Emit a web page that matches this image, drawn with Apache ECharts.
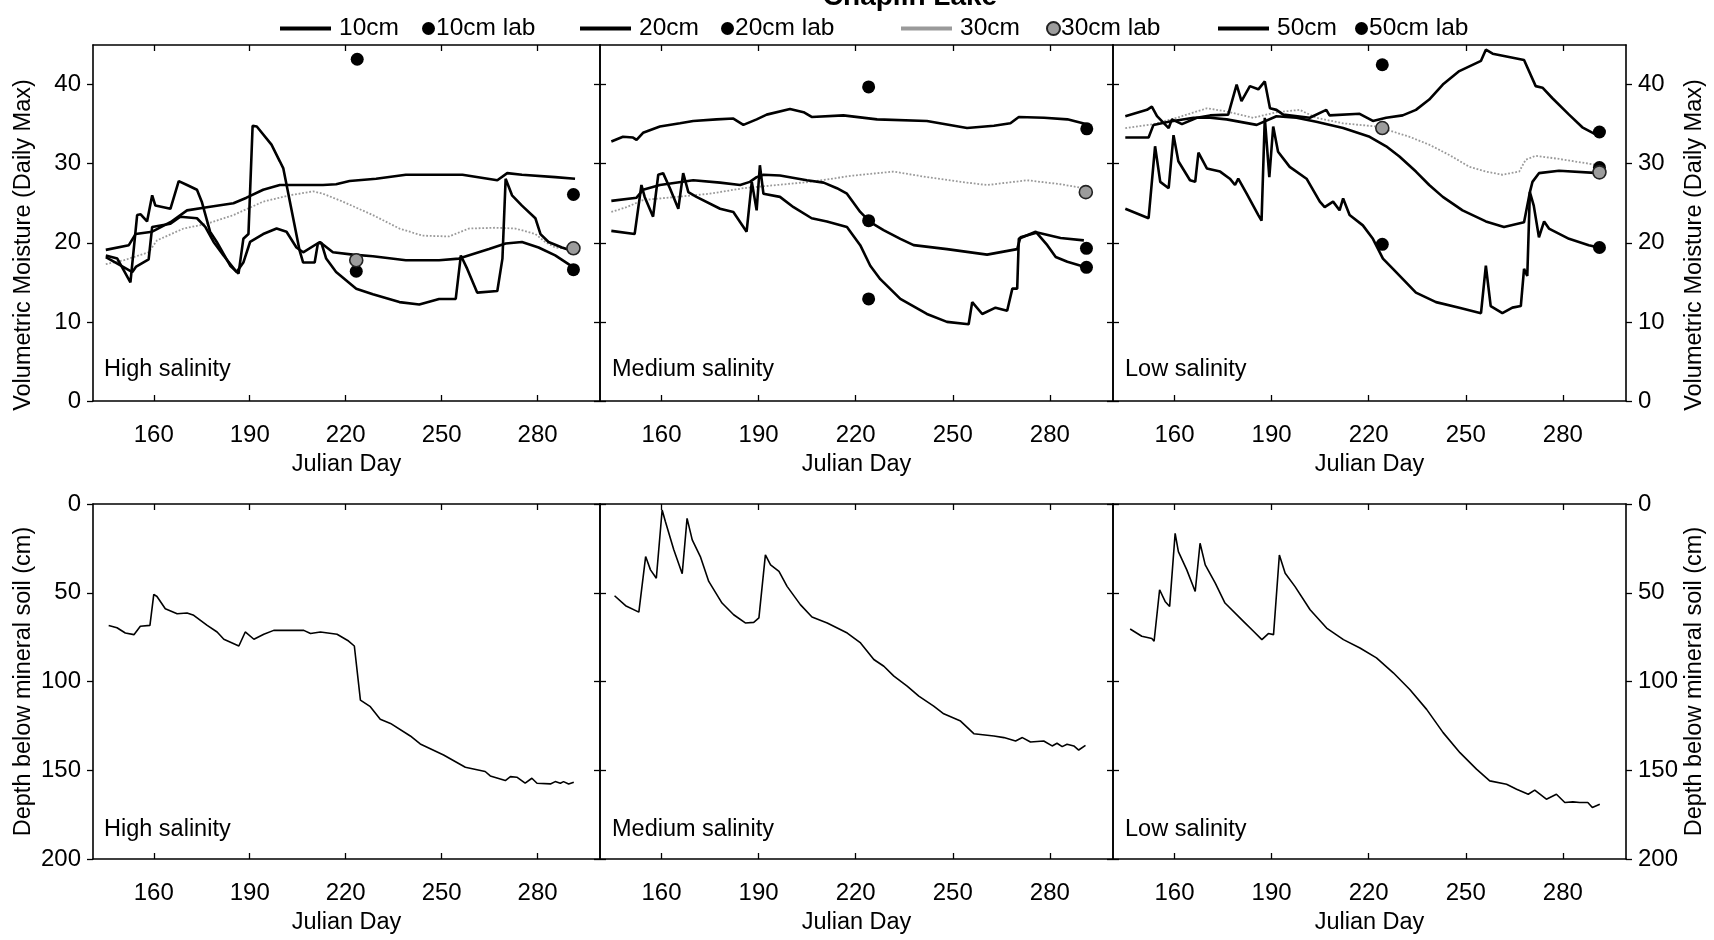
<!DOCTYPE html>
<html><head><meta charset="utf-8">
<script src="https://cdn.jsdelivr.net/npm/echarts@6/dist/echarts.min.js"></script>
<style>html,body{margin:0;padding:0;background:#fff}#c{width:1714px;height:940px}</style>
</head><body><div id="c"></div>
<script>
// ---------- data ----------
const chartTitle = 'Chaplin Lake';
const xTicks = [160, 190, 220, 250, 280];
const moistTicks = [0, 10, 20, 30, 40];
const depthTicks = [0, 50, 100, 150, 200];
const panelNames = ['High salinity', 'Medium salinity', 'Low salinity'];
const depthNames = ['10cm', '20cm', '30cm', '50cm'];
const labNames = ['10cm lab', '20cm lab', '30cm lab', '50cm lab'];

// High salinity – volumetric moisture (daily max)
const high10 = [[145,18.4],[148.6,18.0],[152.7,15.0],[154.8,23.5],[155.9,23.6],[157.9,22.7],[159.5,26.0],[160.5,24.7],[165.2,24.3],[167.8,27.8],[170.4,27.3],[173.5,26.7],[175,25.2],[177.6,21.4],[179.7,20.1],[183.9,17.1],[186.5,16.1],[188,20.5],[189.6,21.1],[190.9,34.8],[192.2,34.7],[196.8,32.4],[199.4,30.3],[200.5,29.4],[205.6,19.0],[206.7,17.5],[210.3,17.5],[211.3,19.9],[212.4,20.0],[213.9,18.0],[217,16.3],[223.3,14.2],[228.5,13.5],[236.8,12.5],[243,12.2],[249.2,12.9],[254.4,12.9],[256,18.4],[258,16.7],[261.1,13.7],[267.4,13.9],[269,18.0],[270,28.1],[272,26.0],[275.1,24.7],[279.3,23.1],[280.9,21.1],[283.4,20.1],[287.6,19.4],[290.7,19.0]];
const high20 = [[145,18.2],[150.7,16.9],[153.3,16.3],[154.5,17.0],[158.4,17.9],[159.5,22.0],[165.2,22.4],[168.3,23.3],[173.5,23.1],[176.1,22.0],[178.7,20.1],[181.8,18.4],[185.9,16.3],[188,17.5],[190.1,20.1],[194.2,21.1],[198.4,21.8],[201.5,21.4],[204.6,19.4],[206.7,18.8],[211.9,20.1],[216,18.8],[222.2,18.5],[228.5,18.3],[238.8,17.8],[249.2,17.8],[255.4,18.0],[264.8,19.2],[270,19.9],[275.1,20.1],[280.3,19.4],[285.5,18.4],[291.2,16.9]];
const high30 = [[145,17.3],[150.7,17.8],[153.8,18.2],[158.4,18.8],[161,20.3],[169.3,21.8],[176.6,22.4],[184.9,23.5],[194.2,25.2],[202.5,26.0],[209.8,26.5],[212.9,26.2],[219.1,25.2],[228.5,23.5],[236.8,21.8],[244,20.9],[252.3,20.8],[258.5,21.8],[266.8,21.9],[273.1,21.8],[279.3,21.1],[282.4,20.1],[285.5,19.4],[290.7,19.2]];
const high50 = [[145,19.1],[152.2,19.7],[154.3,21.1],[159.5,21.4],[165.2,22.6],[170.4,24.1],[176.6,24.5],[184.9,25.0],[189,25.7],[194.2,26.7],[199.4,27.3],[212.9,27.3],[217,27.4],[221.2,27.8],[229.5,28.1],[238.8,28.6],[249.2,28.6],[256.5,28.6],[267.4,27.9],[270.5,28.8],[275.1,28.6],[285.5,28.3],[291.7,28.1]];
const high10lab = [[223.3,16.4],[291.2,16.6]];
const high20lab = [];
const high30lab = [[223.3,17.8],[291.2,19.3]];
const high50lab = [[223.6,43.2],[291.2,26.1]];

// Medium salinity
const med10 = [[144.5,21.5],[151.7,21.1],[153.8,27.3],[154.8,25.8],[157.4,23.3],[159,28.6],[160.5,28.8],[162.6,26.9],[165.2,24.3],[166.7,28.8],[168.3,26.4],[170.8,25.8],[178.1,24.3],[182.2,23.9],[186.3,21.4],[187.9,27.7],[189.4,24.1],[190.4,29.8],[191.5,26.2],[196.6,25.8],[200.8,24.5],[206.4,23.1],[211.1,22.7],[217.3,22.0],[221.4,19.7],[224.5,17.1],[227.6,15.4],[233.8,12.9],[242,11.0],[248.2,10.0],[254.9,9.7],[256,12.5],[259.1,11.0],[263.2,11.8],[266.8,11.4],[268.4,14.2],[269.9,14.2],[270.4,20.5],[275.6,21.4],[279.2,19.7],[281.8,18.2],[285.4,17.6],[291.1,16.9]];
const med20 = [[144.5,25.3],[152.3,25.7],[154.3,26.7],[159.5,27.3],[169.8,27.9],[178.1,27.6],[184.3,27.3],[187.3,27.7],[189.4,28.3],[191.5,28.6],[196.6,28.5],[204.9,27.9],[210.1,27.6],[214.2,26.9],[217.3,26.2],[221.4,23.9],[224.5,22.6],[228.6,21.6],[233.8,20.5],[237.9,19.7],[248.2,19.2],[260.6,18.5],[269.9,19.2],[270.9,20.7],[276.1,21.3],[283.3,20.6],[290.5,20.3]];
const med30 = [[144.5,23.9],[149.2,24.5],[154.3,25.4],[164.6,25.8],[174.9,26.2],[185.3,26.9],[195.6,27.3],[205.9,27.7],[219.3,28.5],[231.7,29.0],[242,28.3],[252.4,27.7],[260.6,27.3],[273,27.9],[283.3,27.4],[290.5,26.9]];
const med50 = [[144.5,32.8],[148.1,33.4],[151.2,33.3],[152.3,33.0],[154.3,33.9],[159.5,34.7],[165.7,35.1],[169.8,35.4],[177,35.6],[182.2,35.7],[185.3,34.9],[189.4,35.6],[192.5,36.2],[199.7,36.9],[203.9,36.5],[206.4,35.9],[216.2,36.1],[226.6,35.6],[242,35.4],[254.4,34.5],[262.7,34.8],[267.8,35.1],[270.4,35.9],[278.2,35.8],[285.4,35.6],[291.1,35.0]];
const med10lab = [[224,12.9],[291.3,16.9]];
const med20lab = [[224,22.8],[291.3,19.3]];
const med30lab = [[291.1,26.4]];
const med50lab = [[224,39.7],[291.4,34.4]];

// Low salinity
const low10 = [[144.8,24.3],[152,23.1],[154,32.2],[155.6,27.7],[158.2,26.9],[159.7,33.6],[161.2,30.3],[164.8,27.9],[166.4,27.7],[167.4,31.4],[170,29.4],[174.1,29.0],[177.1,28.1],[178.7,27.3],[179.7,28.1],[182.3,26.2],[185.9,23.5],[186.9,22.8],[187.9,35.8],[189.3,28.3],[190.5,34.7],[192,31.5],[195.6,29.6],[200.8,28.1],[204.9,25.2],[206.4,24.5],[209,25.2],[211,24.1],[212.1,25.6],[214.1,23.5],[218.2,22.2],[221.3,20.5],[224.4,18.0],[227.5,16.7],[234.6,13.7],[240.8,12.5],[248,11.8],[254.7,11.1],[256.2,17.1],[257.7,12.0],[261.3,11.1],[264.4,11.8],[267,12.0],[268,16.7],[269,15.8],[269.8,26.4],[271,24.7],[272.6,20.7],[274.2,22.7],[275.7,21.8],[281.9,20.5],[288,19.7],[291.1,19.4]];
const low20 = [[144.8,33.3],[152,33.3],[153.5,34.9],[158.2,35.3],[165.9,35.8],[171,35.8],[176.1,35.6],[185.4,34.9],[191.5,36.0],[197.7,35.8],[203.8,35.3],[212.1,34.5],[220.3,33.4],[225.4,32.2],[229.5,30.9],[234.6,29.0],[238.7,27.3],[242.9,25.8],[249,24.1],[256.2,22.7],[261.8,22.0],[268,22.6],[269.8,26.4],[270.6,27.7],[272.6,28.8],[278.8,29.1],[291.1,28.8]];
const low30 = [[144.8,34.5],[153.5,35.0],[160.7,35.8],[170,37.0],[176.1,36.6],[184.3,35.8],[191.5,36.5],[198.7,36.8],[203.8,35.8],[212.1,35.1],[222.3,34.7],[232.6,33.4],[238.7,32.4],[244.9,31.1],[251.1,29.6],[256.2,29.0],[261.3,28.6],[266.5,29.0],[268.5,30.5],[271.6,31.0],[278.8,30.6],[291.1,29.8]];
const low50 = [[144.8,36.0],[151.5,36.8],[153,37.2],[154.6,36.0],[158.2,34.5],[159.2,35.6],[162.3,35.0],[166.9,35.8],[171,36.1],[176.6,36.2],[179.2,40.0],[180.7,37.9],[183.3,39.8],[185.9,39.4],[187.9,40.4],[189.5,37.0],[191.5,36.8],[193.6,36.2],[201.8,35.8],[206.9,36.8],[207.9,36.1],[217.2,36.3],[221.3,35.4],[225.4,35.8],[230.5,36.1],[234.6,36.8],[238.7,38.1],[242.9,40.0],[248,41.7],[254.7,43.0],[256.2,44.4],[258.3,43.9],[268,43.1],[271.6,39.8],[273.7,39.6],[276.7,38.3],[281.9,36.2],[286,34.6],[290.1,33.7],[291.6,33.9]];
const low10lab = [[224.2,19.8],[291.3,19.4]];
const low20lab = [[291.3,29.5]];
const low30lab = [[224.2,34.5],[291.3,28.9]];
const low50lab = [[224.2,42.5],[291.3,34.0]];

// Depth below mineral soil (cm)
const highDepth = [[145.9,68.4],[148.5,69.7],[151.1,72.7],[153.8,73.6],[155.8,68.9],[158.8,68.4],[160,50.9],[161,52.1],[163.6,59.0],[167.3,61.8],[170.4,61.4],[172.5,62.7],[176.7,68.4],[179.8,72.1],[181.9,76.2],[186.6,80.0],[188.6,72.1],[191.3,76.2],[194.4,73.4],[197.5,71.2],[206.9,71.2],[209,73.0],[212.1,72.1],[217.3,73.4],[220.9,77.2],[222.7,80.0],[224.6,110.5],[227.7,114.2],[230.8,121.3],[234,123.6],[240.2,130.7],[243.3,135.2],[250.6,141.4],[257.4,148.3],[263.6,150.7],[265.2,153.2],[269.9,155.8],[271.5,153.6],[273.5,153.9],[276.1,157.3],[278.2,154.5],[279.8,157.3],[284,157.7],[285.5,156.4],[287.1,157.3],[288.1,156.4],[289.7,157.7],[291.3,156.7]];
const medDepth = [[145.5,51.7],[148.9,57.3],[153,60.9],[153.5,61.4],[155.1,29.6],[156.6,37.1],[158.4,41.8],[160.2,3.4],[161.2,9.9],[163.8,25.8],[166.4,39.3],[167.9,8.1],[169.5,20.2],[172,29.6],[174.6,43.6],[178.7,55.8],[182.3,62.4],[185.9,67.0],[188.5,66.7],[190.1,64.2],[190.6,65.0],[192.1,28.7],[193.7,34.3],[196.3,38.0],[198.8,46.4],[202.9,56.7],[206.5,63.7],[211.2,67.0],[217.4,72.7],[221.5,78.3],[225.6,87.6],[228.7,91.4],[231.8,97.0],[235.9,102.6],[239.5,108.2],[244.1,113.9],[247.2,118.2],[252.4,122.3],[256.5,129.4],[262.7,130.7],[265.8,131.6],[269.4,133.5],[271.5,131.6],[274,134.1],[278.1,133.5],[280.7,136.3],[282.2,134.8],[283.8,136.7],[285.3,135.4],[287.4,136.3],[288.9,138.6],[291,136.0]];
const lowDepth = [[146.3,70.4],[149.9,74.5],[153,75.8],[153.7,77.3],[155.4,48.3],[157.1,54.9],[158.5,57.7],[160.2,16.5],[161.2,26.8],[163.8,37.1],[166.4,49.3],[167.9,22.1],[169.5,34.3],[172.6,44.6],[175.6,55.8],[181.3,66.1],[184.4,71.7],[187,76.4],[189,73.0],[190.6,73.6],[192.4,28.7],[194.2,39.0],[197.2,46.4],[201.9,59.6],[207,69.9],[212.2,76.4],[217.3,81.1],[222.4,86.7],[227.6,95.1],[232.7,104.5],[237.9,115.7],[243,128.8],[248.2,140.1],[253.3,149.4],[257.4,156.0],[262.6,157.9],[265.7,160.7],[269.3,163.5],[271.3,161.2],[274.9,166.3],[278,163.5],[280.6,168.2],[283.1,167.8],[285.2,168.2],[287.7,168.2],[289.1,171.0],[291.4,169.1]];

// ---------- chart ----------
const FONT = '"Liberation Sans", Arial, sans-serif';
const panels = [
  {lines:[high10,high20,high30,high50], labs:[high10lab,high20lab,high30lab,high50lab], depth:highDepth},
  {lines:[med10,med20,med30,med50], labs:[med10lab,med20lab,med30lab,med50lab], depth:medDepth},
  {lines:[low10,low20,low30,low50], labs:[low10lab,low20lab,low30lab,low50lab], depth:lowDepth}
];
const colLeft = [93, 600, 1113];
const colWidth = [507, 513, 513];
const rowTop = [45, 504];
const rowHeight = [356, 355];

const grids = [], xAxes = [], yAxes = [], series = [], graphics = [];
const axisLineStyle = {color:'#000', width:1.6};
const tickStyle = {color:'#000', width:1.3};

for (let r = 0; r < 2; r++) {
  for (let c = 0; c < 3; c++) {
    const g = r * 3 + c;
    grids.push({left: colLeft[c], top: rowTop[r], width: colWidth[c], height: rowHeight[r],
      show: false, containLabel: false});
    const xBase = {type:'value', gridIndex:g, min:141, max:299.5, splitLine:{show:false},
      axisLine:{show:true, onZero:false, lineStyle:axisLineStyle}};
    xAxes.push(Object.assign({}, xBase, {position:'bottom',
      axisTick:{show:true, inside:true, length:6, customValues:xTicks, lineStyle:tickStyle},
      axisLabel:{show:true, customValues:xTicks, fontSize:24, color:'#000', fontFamily:FONT, margin:22},
      name:'Julian Day', nameLocation:'middle', nameGap:52,
      nameTextStyle:{fontSize:23.5, color:'#000', fontFamily:FONT}}));
    xAxes.push(Object.assign({}, xBase, {position:'top',
      axisTick:{show:true, inside:true, length:6, customValues:xTicks, lineStyle:tickStyle},
      axisLabel:{show:false}}));
    const isMoist = r === 0;
    const yTicks = isMoist ? moistTicks : depthTicks;
    const yBase = {type:'value', gridIndex:g, min:0, max: isMoist ? 45 : 200, inverse: !isMoist,
      splitLine:{show:false}, axisLine:{show:true, onZero:false, lineStyle:axisLineStyle}};
    const yName = isMoist ? 'Volumetric Moisture (Daily Max)' : 'Depth below mineral soil (cm)';
    const mkY = (pos, outer) => Object.assign({}, yBase, {position:pos,
      axisTick:{show:true, inside:!outer, length:6, customValues:yTicks, lineStyle:tickStyle},
      axisLabel:{show:outer, customValues:yTicks, fontSize:24, color:'#000', fontFamily:FONT, margin:12},
      name: outer ? yName : '', nameLocation:'middle', nameGap:57,
      nameTextStyle:{fontSize:23.5, color:'#000', fontFamily:FONT,
        padding: isMoist ? [0, 44, 0, 0] : 0}});
    yAxes.push(mkY('left', c === 0));
    yAxes.push(mkY('right', c === 2));

    const p = panels[c];
    if (isMoist) {
      p.lines.forEach((d, i) => {
        const gray = i === 2;
        series.push({type:'line', name:depthNames[i], xAxisIndex:2*g, yAxisIndex:2*g, data:d,
          showSymbol:false, symbol:'none', silent:true, z: gray ? 2 : 3,
          color: gray ? '#9a9a9a' : '#000',
          lineStyle: gray ? {color:'#9a9a9a', width:1.8, type:'dotted'} : {color:'#000', width:2.6}});
      });
      p.labs.forEach((d, i) => {
        const gray = i === 2;
        series.push({type:'scatter', name:labNames[i], xAxisIndex:2*g, yAxisIndex:2*g, data:d,
          symbol:'circle', symbolSize:13, silent:true, z:5,
          color: gray ? '#9c9c9c' : '#000',
          itemStyle: gray ? {color:'#9c9c9c', borderColor:'#222', borderWidth:1.6, opacity:1} : {color:'#000', opacity:1}});
      });
    } else {
      series.push({type:'line', name:'depth', xAxisIndex:2*g, yAxisIndex:2*g, data:p.depth,
        showSymbol:false, symbol:'none', silent:true, color:'#000',
        lineStyle:{color:'#000', width:1.6}});
    }
    graphics.push({type:'text', x: colLeft[c] + (c === 0 ? 11 : 12), y: rowTop[r] + rowHeight[r] - (isMoist ? 31 : 29),
      style:{text: panelNames[c], font:'23.5px ' + FONT, fill:'#000', verticalAlign:'middle'}});
  }
}

// legend: one component per item so each sits where the reference puts it
const legendLeft = [275, 417, 575, 716, 896, 1041, 1213, 1350];
const legendItems = ['10cm','10cm lab','20cm','20cm lab','30cm','30cm lab','50cm','50cm lab'];
const legends = legendItems.map((n, k) => {
  const isLine = k % 2 === 0;
  return {data:[n], left: legendLeft[k], top: 11, selectedMode:false,
    icon: isLine ? 'rect' : 'circle', itemWidth: isLine ? 51 : 13, itemHeight: isLine ? 4 : 13,
    itemGap: 0,
    textStyle:{fontSize:24.5, color:'#000', fontFamily:FONT, padding: isLine ? [0,0,0,3] : [0,0,0,-4]}};
});

const chart = echarts.init(document.getElementById('c'), null, {renderer:'canvas'});
chart.setOption({
  animation:false,
  backgroundColor:'#fff',
  title:{text:chartTitle, left:905, top:-22, textAlign:'center',
    textStyle:{fontSize:28, fontWeight:'bold', color:'#000', fontFamily:FONT}},
  legend: legends,
  grid: grids, xAxis: xAxes, yAxis: yAxes, series: series,
  graphic: graphics
});
</script></body></html>
